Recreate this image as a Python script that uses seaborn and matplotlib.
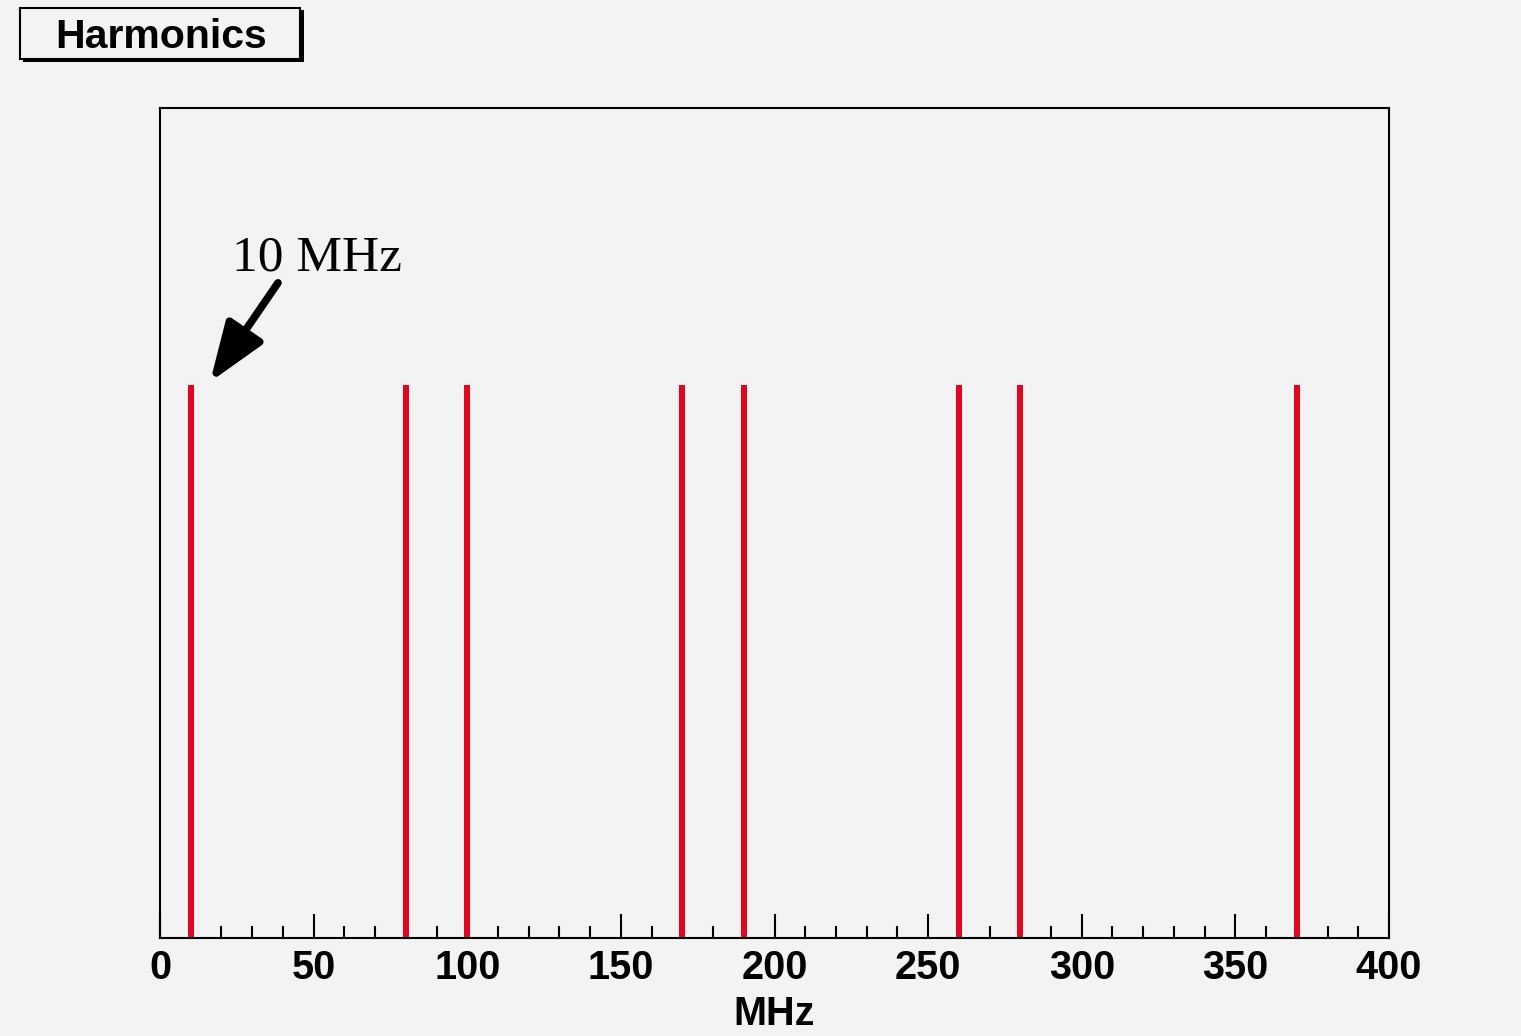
import matplotlib
matplotlib.use("Agg")
import matplotlib.pyplot as plt
import seaborn as sns
import pandas as pd
from matplotlib.ticker import MultipleLocator
from matplotlib.patches import Rectangle

# Data
freqs_mhz = [10, 80, 100, 170, 190, 260, 280, 370]
amplitudes = [1.0, 1.0, 1.0, 1.0, 1.0, 1.0, 1.0, 1.0]
x_ticks = [0, 50, 100, 150, 200, 250, 300, 350, 400]
title_text = "Harmonics"
x_label = "MHz"
annot_text = "10 MHz"

bg = "#f3f3f3"
sns.set_theme(style="ticks")
plt.rcParams["font.family"] = ["Liberation Sans", "DejaVu Sans"]
plt.rcParams["text.color"] = "black"
plt.rcParams["axes.labelcolor"] = "black"

fig = plt.figure(figsize=(15.21, 10.36), dpi=100, facecolor=bg)
ax = fig.add_axes([160/1521, 1-938/1036, (1389-160)/1521, (938-108)/1036])
ax.set_facecolor(bg)

df = pd.DataFrame({"f": freqs_mhz, "a": amplitudes})
sns.barplot(data=df, x="f", y="a", native_scale=True, width=0.1,
            color="#e2061f", saturation=1, ax=ax, edgecolor="none")

ax.set_xlim(0, 400)
ax.set_ylim(0, 1.5)
ax.set_xticks(x_ticks)
ax.set_xticklabels([str(t) for t in x_ticks], fontsize=28.5, fontweight="bold")
ax.xaxis.set_minor_locator(MultipleLocator(10))
ax.tick_params(axis="x", which="major", direction="in", length=17, width=1.5,
               pad=8, colors="black")
ax.tick_params(axis="x", which="minor", direction="in", length=9, width=1.5,
               colors="black")
ax.tick_params(axis="y", left=False, labelleft=False)
ax.set_yticks([])
ax.set_xlabel(x_label, fontsize=28.5, fontweight="bold", labelpad=6, color="black")
ax.set_ylabel("")
for s in ax.spines.values():
    s.set_visible(True)
    s.set_color("black")
    s.set_linewidth(1.5)

ax.annotate("", xy=(16.3, 1.005), xytext=(38.4, 1.184),
            arrowprops=dict(arrowstyle="-|>,head_length=3.0,head_width=1.1",
                            color="black", lw=5.5, shrinkA=0, shrinkB=0))
ax.text(23.4, 1.207, annot_text, fontsize=37, family=["Liberation Serif", "DejaVu Serif"],
        va="baseline", ha="left", color="black")

# Title box with shadow
fig.patches.append(Rectangle((23/1521, 1-62/1036), 281/1521, 52/1036,
                             transform=fig.transFigure, facecolor="black",
                             edgecolor="none", zorder=1))
fig.patches.append(Rectangle((20/1521, 1-59/1036), 280/1521, 51/1036,
                             transform=fig.transFigure, facecolor=bg,
                             edgecolor="black", linewidth=1.5, zorder=2))
fig.text(161/1521, 1-37/1036, title_text, fontsize=29.5, fontweight="bold",
         ha="center", va="center", zorder=3, color="black")

fig.savefig("out.png", dpi=100, facecolor=bg)
